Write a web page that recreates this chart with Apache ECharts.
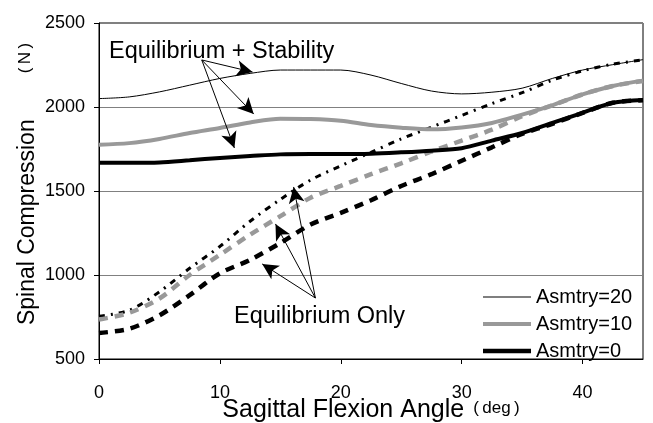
<!DOCTYPE html>
<html>
<head>
<meta charset="utf-8">
<script src="https://cdn.jsdelivr.net/npm/echarts@6/dist/echarts.min.js"></script>
<style>
html,body{margin:0;padding:0;background:#fff;}
#chart{width:653px;height:423px;}
</style>
</head>
<body>
<div id="chart"></div>
<script>
const angles = [0, 2.5, 5, 7.5, 10, 12.5, 15, 17.5, 20, 22.5, 25, 27.5, 30, 32.5, 35, 37.5, 40, 42.5, 45];
// Equilibrium + Stability (solid)
const stab20 = [2050, 2060, 2090, 2130, 2170, 2200, 2220, 2220, 2220, 2190, 2140, 2095, 2078, 2088, 2112, 2170, 2220, 2252, 2282];
const stab10 = [1775, 1785, 1810, 1845, 1875, 1908, 1930, 1928, 1918, 1893, 1877, 1867, 1878, 1905, 1955, 2010, 2075, 2125, 2157];
const stab0  = [1668, 1668, 1670, 1683, 1697, 1708, 1718, 1720, 1720, 1722, 1730, 1740, 1755, 1800, 1845, 1905, 1965, 2025, 2042];
// Equilibrium only (dashed)
const eq20 = [755, 790, 900, 1040, 1170, 1320, 1450, 1565, 1650, 1730, 1810, 1880, 1950, 2020, 2085, 2160, 2215, 2255, 2280];
const eq10 = [735, 775, 860, 1000, 1120, 1240, 1350, 1460, 1530, 1600, 1665, 1735, 1800, 1865, 1945, 2010, 2075, 2125, 2155];
const eq0  = [655, 680, 760, 880, 1010, 1090, 1190, 1300, 1370, 1445, 1530, 1600, 1680, 1760, 1840, 1900, 1965, 2025, 2040];
const legendNames = ['Asmtry=20', 'Asmtry=10', 'Asmtry=0'];
const xTicks = [0, 10, 20, 30, 40];
const yTicks = [500, 1000, 1500, 2000, 2500];
// annotation arrows (data coordinates)
const arrowsStab = { from: [8.5, 2280], to: [[12.7, 2208], [12.8, 1958], [11.2, 1756]] };
const arrowsEq = { from: [17.9, 863], to: [[16.1, 1524], [14.6, 1304], [13.5, 1066]] };

const pair = (arr) => angles.map((a, i) => [a, arr[i]]);
const font = 'Liberation Sans, Arial, sans-serif';

function arrowData(set) {
  return set.to.map(t => [{ coord: set.from }, { coord: t }]);
}

const chart = echarts.init(document.getElementById('chart'), null, { renderer: 'canvas' });
chart.setOption({
  animation: false,
  backgroundColor: '#fff',
  grid: { left: 99, right: 10, top: 23, bottom: 64, show: true, borderColor: '#000', borderWidth: 1,
    containLabel: false, outerBoundsMode: 'none' },
  xAxis: {
    type: 'value', min: 0, max: 45, interval: 10,
    name: '{a|Sagittal Flexion Angle}{b|(\u2009deg\u2009)}',
    nameLocation: 'middle', nameGap: 39, nameMoveOverlap: false,
    nameTextStyle: { rich: { a: { fontSize: 25, fontFamily: font, color: '#000' }, b: { fontSize: 17, fontFamily: font, color: '#000', padding: [0, 0, 5, 9] } } },
    axisLine: { lineStyle: { color: '#000', width: 1 } },
    axisTick: { show: true, inside: false, length: 5, lineStyle: { color: '#000' } },
    axisLabel: { fontSize: 18, fontFamily: font, color: '#000', margin: 25, showMaxLabel: false,
      formatter: v => (xTicks.indexOf(v) >= 0 ? String(v) : '') },
    splitLine: { show: false }
  },
  yAxis: {
    type: 'value', min: 500, max: 2500, interval: 500,
    name: '{s|}{a|Spinal Compression}{b|(\u2009N\u2009)}',
    nameLocation: 'middle', nameGap: 60, nameMoveOverlap: false,
    nameTextStyle: { rich: { s: { width: 14 }, a: { fontSize: 23, fontFamily: font, color: '#000' }, b: { fontSize: 17, fontFamily: font, color: '#000', padding: [0, 0, 4, 46] } } },
    axisLine: { show: true, lineStyle: { color: '#000', width: 1 } },
    axisTick: { show: true, inside: false, length: 5, lineStyle: { color: '#000' } },
    axisLabel: { fontSize: 18, fontFamily: font, color: '#000', margin: 14,
      formatter: v => (yTicks.indexOf(v) >= 0 ? String(v) : '') },
    splitLine: { show: true, lineStyle: { color: '#808080', width: 1 } }
  },
  legend: {
    data: [
      { name: legendNames[0], icon: 'path://M0,0 H48 V1 H0 Z' },
      { name: legendNames[1], icon: 'path://M0,0 H48 V4 H0 Z' },
      { name: legendNames[2], icon: 'path://M0,0 H48 V4.5 H0 Z' }
    ],
    orient: 'vertical',
    left: 478, top: 282,
    itemWidth: 48, itemHeight: 14, itemGap: 7,
    textStyle: { fontSize: 20, fontFamily: font, color: '#000' },
    selectedMode: false
  },
  series: [
    { name: 'Asmtry=20', type: 'line', data: pair(stab20), smooth: 0.3, symbol: 'none', lineStyle: { color: '#000', width: 1 }, itemStyle: { color: '#000' }, z: 5 },
    { name: 'Asmtry=10', type: 'line', data: pair(stab10), smooth: 0.3, symbol: 'none', lineStyle: { color: '#999', width: 4 }, itemStyle: { color: '#999' }, z: 4 },
    { name: 'Asmtry=0', type: 'line', data: pair(stab0), smooth: 0.3, symbol: 'none', lineStyle: { color: '#000', width: 4 }, itemStyle: { color: '#000' }, z: 4 },
    { name: 'EqOnly20', type: 'line', data: pair(eq20), smooth: 0.3, symbol: 'none', lineStyle: { color: '#000', width: 3, type: [6, 6, 2, 6] }, z: 3 },
    { name: 'EqOnly10', type: 'line', data: pair(eq10), smooth: 0.3, symbol: 'none', lineStyle: { color: '#999', width: 4.5, type: [9, 7] }, z: 3 },
    { name: 'EqOnly0', type: 'line', data: pair(eq0), smooth: 0.3, symbol: 'none', lineStyle: { color: '#000', width: 4.5, type: [9, 7] }, z: 3 },
    {
      name: 'annot', type: 'line', data: [], symbol: 'none', silent: true,
      markLine: {
        silent: true, animation: false,
        symbol: ['none', 'arrow'], symbolSize: [12, 16],
        label: { show: false },
        lineStyle: { color: '#000', width: 1, type: 'solid' },
        emphasis: { disabled: true },
        data: arrowData(arrowsStab).concat(arrowData(arrowsEq))
      },
      z: 6
    }
  ],
  graphic: [
    { type: 'text', left: 109, top: 40, style: { text: 'Equilibrium + Stability', fontSize: 23.5, fontFamily: font, fill: '#000' }, z: 10 },
    { type: 'text', left: 234, top: 305, style: { text: 'Equilibrium Only', fontSize: 23.5, fontFamily: font, fill: '#000' }, z: 10 }
  ]
});
</script>
</body>
</html>
